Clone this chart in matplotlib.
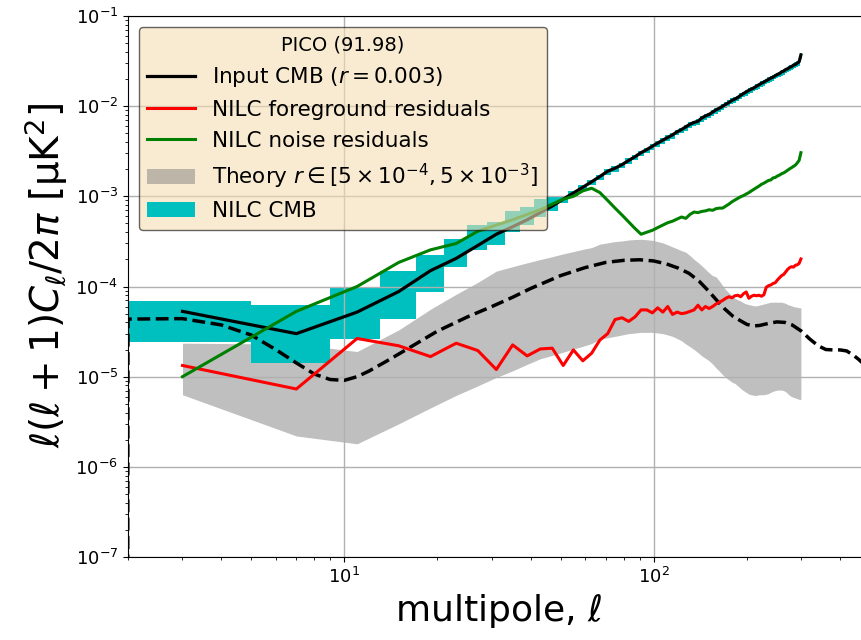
import numpy as np
import matplotlib
matplotlib.use("Agg")
from matplotlib import pyplot as plt

# binned multipoles, dl = 4
ell = np.arange(3, 300, 4)

input_cmb = [5.3e-5, 3.0e-5, 5.2e-5, 8.8e-5, 1.5e-4, 2.05e-4, 2.85e-4, 3.8e-4,
             4.6e-4, 5.5e-4, 6.6e-4, 7.8e-4, 9.3e-4, 1.09e-3, 1.26e-3, 1.45e-3,
             1.66e-3, 1.9e-3, 2.05e-3, 2.25e-3, 2.5e-3, 2.75e-3, 3.05e-3, 3.3e-3,
             3.6e-3, 3.9e-3, 4.2e-3, 4.5e-3, 4.8e-3, 5.2e-3, 5.5e-3, 5.9e-3,
             6.3e-3, 6.6e-3, 6.8e-3, 7.4e-3, 7.8e-3, 8.1e-3, 8.6e-3, 9.1e-3,
             9.5e-3, 1.0e-2, 1.05e-2, 1.1e-2, 1.16e-2, 1.2e-2, 1.25e-2, 1.32e-2,
             1.38e-2, 1.44e-2, 1.5e-2, 1.55e-2, 1.6e-2, 1.67e-2, 1.73e-2, 1.8e-2,
             1.85e-2, 1.92e-2, 1.98e-2, 2.05e-2, 2.1e-2, 2.18e-2, 2.25e-2, 2.3e-2,
             2.4e-2, 2.45e-2, 2.55e-2, 2.6e-2, 2.7e-2, 2.75e-2, 2.85e-2, 2.9e-2,
             3.0e-2, 3.1e-2, 3.7e-2]

fg_res = [1.33e-5, 7.3e-6, 2.65e-5, 2.2e-5, 1.67e-5, 2.35e-5, 1.95e-5, 1.2e-5,
          2.25e-5, 1.7e-5, 2.03e-5, 2.07e-5, 1.33e-5, 1.98e-5, 1.5e-5, 1.82e-5,
          2.55e-5, 3.0e-5, 4.3e-5, 4.5e-5, 4.1e-5, 4.6e-5, 5.5e-5, 5.5e-5,
          5.1e-5, 5.8e-5, 5.2e-5, 6.0e-5, 4.9e-5, 5.2e-5, 5.0e-5, 5.1e-5,
          5.3e-5, 5.5e-5, 6.2e-5, 5.5e-5, 6.0e-5, 5.7e-5, 6.0e-5, 6.4e-5,
          6.7e-5, 7.0e-5, 7.4e-5, 7.7e-5, 7.5e-5, 7.9e-5, 8.0e-5, 7.7e-5,
          8.3e-5, 8.7e-5, 7.4e-5, 7.8e-5, 8.0e-5, 7.9e-5, 8.0e-5, 7.8e-5,
          8.1e-5, 9.8e-5, 1.02e-4, 1.04e-4, 1.08e-4, 1.1e-4, 1.18e-4, 1.25e-4,
          1.32e-4, 1.36e-4, 1.45e-4, 1.55e-4, 1.62e-4, 1.66e-4, 1.64e-4, 1.72e-4,
          1.74e-4, 1.8e-4, 2.02e-4]

noise_res = [1.0e-5, 5.3e-5, 1.0e-4, 1.85e-4, 2.55e-4, 3.0e-4, 4.1e-4, 4.8e-4,
             5.5e-4, 6.3e-4, 7.1e-4, 8.2e-4, 9.3e-4, 1.0e-3, 1.15e-3, 1.23e-3,
             1.1e-3, 9.0e-4, 7.4e-4, 6.2e-4, 5.2e-4, 4.4e-4, 3.8e-4, 4.0e-4,
             4.2e-4, 4.5e-4, 4.8e-4, 5.1e-4, 5.3e-4, 5.6e-4, 5.9e-4, 5.7e-4,
             6.3e-4, 6.7e-4, 6.6e-4, 6.8e-4, 6.9e-4, 7.1e-4, 7.0e-4, 7.3e-4,
             7.4e-4, 7.4e-4, 7.8e-4, 8.2e-4, 8.7e-4, 9.1e-4, 9.5e-4, 9.9e-4,
             1.02e-3, 1.06e-3, 1.1e-3, 1.15e-3, 1.2e-3, 1.25e-3, 1.3e-3, 1.36e-3,
             1.4e-3, 1.45e-3, 1.5e-3, 1.52e-3, 1.6e-3, 1.62e-3, 1.68e-3, 1.72e-3,
             1.78e-3, 1.82e-3, 1.88e-3, 1.95e-3, 2.02e-3, 2.08e-3, 2.15e-3, 2.22e-3,
             2.35e-3, 2.5e-3, 3.05e-3]

cmb_lo = [2.4e-5, 1.4e-5, 2.6e-5, 4.4e-5, 8.6e-5, 1.66e-4, 2.55e-4, 2.9e-4,
          4.0e-4, 4.8e-4, 5.9e-4, 6.8e-4, 8.5e-4, 9.9e-4, 1.15e-3, 1.32e-3,
          1.51e-3, 1.73e-3, 1.87e-3, 2.05e-3, 2.28e-3, 2.5e-3, 2.78e-3, 3.0e-3,
          3.28e-3, 3.55e-3, 3.82e-3, 4.1e-3, 4.37e-3, 4.73e-3, 5.0e-3, 5.37e-3,
          5.73e-3, 6.0e-3, 6.19e-3, 6.73e-3, 7.1e-3, 7.37e-3, 7.83e-3, 8.28e-3,
          8.65e-3, 9.1e-3, 9.55e-3, 1.0e-2, 1.06e-2, 1.09e-2, 1.14e-2, 1.2e-2,
          1.26e-2, 1.31e-2, 1.37e-2, 1.41e-2, 1.46e-2, 1.52e-2, 1.57e-2, 1.64e-2,
          1.68e-2, 1.75e-2, 1.8e-2, 1.87e-2, 1.91e-2, 1.98e-2, 2.05e-2, 2.09e-2,
          2.18e-2, 2.23e-2, 2.32e-2, 2.37e-2, 2.46e-2, 2.5e-2, 2.59e-2, 2.64e-2,
          2.73e-2, 2.82e-2, 3.3e-2]

cmb_hi = [6.9e-5, 6.25e-5, 9.6e-5, 1.49e-4, 2.24e-4, 3.34e-4, 4.8e-4, 5.2e-4,
          6.9e-4, 7.7e-4, 9.3e-4, 9.8e-4, 9.8e-4, 1.14e-3, 1.32e-3, 1.52e-3,
          1.74e-3, 2.0e-3, 2.15e-3, 2.36e-3, 2.63e-3, 2.89e-3, 3.2e-3, 3.47e-3,
          3.78e-3, 4.1e-3, 4.41e-3, 4.73e-3, 5.04e-3, 5.46e-3, 5.78e-3, 6.2e-3,
          6.62e-3, 6.93e-3, 7.14e-3, 7.77e-3, 8.19e-3, 8.5e-3, 9.03e-3, 9.56e-3,
          9.98e-3, 1.05e-2, 1.1e-2, 1.16e-2, 1.22e-2, 1.26e-2, 1.31e-2, 1.39e-2,
          1.45e-2, 1.51e-2, 1.58e-2, 1.63e-2, 1.68e-2, 1.75e-2, 1.82e-2, 1.89e-2,
          1.94e-2, 2.02e-2, 2.08e-2, 2.15e-2, 2.2e-2, 2.29e-2, 2.36e-2, 2.42e-2,
          2.52e-2, 2.57e-2, 2.68e-2, 2.73e-2, 2.84e-2, 2.89e-2, 2.99e-2, 3.05e-2,
          3.15e-2, 3.26e-2, 3.9e-2]

theory_lo = [6.3e-6, 2.2e-6, 1.8e-6, 3.0e-6, 4.5e-6, 6.2e-6, 7.9e-6, 9.8e-6,
             1.16e-5, 1.37e-5, 1.58e-5, 1.72e-5, 1.87e-5, 2.02e-5, 2.17e-5, 2.33e-5,
             2.6e-5, 2.7e-5, 2.8e-5, 2.9e-5, 3.0e-5, 3.05e-5, 3.1e-5, 3.1e-5,
             3.1e-5, 3.05e-5, 3.0e-5, 2.9e-5, 2.8e-5, 2.65e-5, 2.5e-5, 2.3e-5,
             2.15e-5, 2.0e-5, 1.85e-5, 1.7e-5, 1.6e-5, 1.5e-5, 1.38e-5, 1.25e-5,
             1.15e-5, 1.05e-5, 9.8e-6, 9.2e-6, 8.7e-6, 8.4e-6, 7.9e-6, 7.4e-6,
             7.0e-6, 6.7e-6, 6.4e-6, 6.3e-6, 6.2e-6, 6.2e-6, 6.3e-6, 6.3e-6,
             6.3e-6, 6.4e-6, 6.5e-6, 6.7e-6, 6.9e-6, 7.0e-6, 7.1e-6, 7.1e-6,
             7.1e-6, 7.0e-6, 6.8e-6, 6.5e-6, 6.2e-6, 6.0e-6, 5.9e-6, 5.8e-6,
             5.7e-6, 5.6e-6, 5.6e-6]

theory_hi = [2.35e-5, 2.3e-5, 1.9e-5, 3.3e-5, 5.6e-5, 8.2e-5, 1.11e-4, 1.48e-4,
             1.66e-4, 1.83e-4, 1.99e-4, 2.14e-4, 2.3e-4, 2.44e-4, 2.58e-4, 2.7e-4,
             2.95e-4, 3.05e-4, 3.15e-4, 3.2e-4, 3.28e-4, 3.32e-4, 3.34e-4, 3.3e-4,
             3.25e-4, 3.15e-4, 3.05e-4, 2.9e-4, 2.75e-4, 2.62e-4, 2.5e-4, 2.4e-4,
             2.2e-4, 2.0e-4, 1.85e-4, 1.7e-4, 1.55e-4, 1.42e-4, 1.32e-4, 1.28e-4,
             1.15e-4, 1.02e-4, 9.2e-5, 8.5e-5, 7.9e-5, 7.4e-5, 7.1e-5, 6.9e-5,
             6.6e-5, 6.4e-5, 6.3e-5, 6.2e-5, 6.1e-5, 6.1e-5, 6.2e-5, 6.3e-5,
             6.4e-5, 6.5e-5, 6.6e-5, 6.7e-5, 6.7e-5, 6.7e-5, 6.7e-5, 6.7e-5,
             6.7e-5, 6.6e-5, 6.5e-5, 6.3e-5, 6.2e-5, 6.1e-5, 6.0e-5, 5.9e-5,
             5.9e-5, 5.8e-5, 5.8e-5]

# unbinned theory spectrum (dashed), ell=1 is zero
ell_th = [1, 2, 3, 4, 5, 6, 7, 8, 9, 10, 11, 12, 14, 17, 20, 25, 30, 35, 40,
          50, 60, 70, 80, 90, 100, 110, 120, 130, 140, 150, 160, 170, 180, 190,
          200, 210, 220, 235, 250, 265, 280, 300, 320, 340, 360, 380, 400, 420,
          440, 460, 480]
dl_th = [0.0, 4.35e-5, 4.4e-5, 3.75e-5, 2.9e-5, 2.0e-5, 1.42e-5, 1.07e-5,
         9.3e-6, 9.1e-6, 1.0e-5, 1.15e-5, 1.55e-5, 2.3e-5, 3.2e-5, 4.6e-5,
         6.0e-5, 7.6e-5, 9.5e-5, 1.32e-4, 1.62e-4, 1.85e-4, 1.95e-4, 1.98e-4,
         1.92e-4, 1.78e-4, 1.6e-4, 1.4e-4, 1.15e-4, 9.0e-5, 7.0e-5, 5.6e-5,
         4.7e-5, 4.2e-5, 3.8e-5, 3.65e-5, 3.7e-5, 3.9e-5, 4.05e-5, 4.0e-5,
         3.75e-5, 3.2e-5, 2.6e-5, 2.2e-5, 2.0e-5, 1.98e-5, 1.98e-5, 1.93e-5,
         1.75e-5, 1.55e-5, 1.35e-5]

# bin edges for the NILC CMB steps
edges = np.append(ell - 2, ell[-1] + 2)

fig = plt.figure(figsize=(8.61, 6.4), dpi=100)
ax = fig.add_axes([128 / 861, 83 / 640, 742 / 861, 541 / 640])

th = ax.fill_between(ell, theory_lo, theory_hi, color='gray', alpha=0.5, lw=0,
                     label=r'Theory $r \in [5\times10^{-4}, 5\times10^{-3}]$')
nilc = ax.fill_between(edges, np.append(cmb_lo, cmb_lo[-1]),
                       np.append(cmb_hi, cmb_hi[-1]), step='post', color='c',
                       lw=0, label='NILC CMB')
ax.plot(ell_th, dl_th, 'k--', lw=2.5)
l1, = ax.plot(ell, input_cmb, 'k', lw=2.3, label=r'Input CMB ($r = 0.003$)')
l2, = ax.plot(ell, fg_res, 'r', lw=2.2, label='NILC foreground residuals')
l3, = ax.plot(ell, noise_res, 'g', lw=2.2, label='NILC noise residuals')

ax.set_xscale('log')
ax.set_yscale('log')
ax.set_xlim(2, 500)
ax.set_ylim(1e-7, 1e-1)
ax.grid(True, which='major', color='#b0b0b0', lw=1)
ax.tick_params(labelsize=13)
ax.set_xlabel(r'multipole, $\ell$', fontsize=26)
ax.set_ylabel(r'$\ell(\ell+1)C_\ell/2\pi$ [μK$^2$]', fontsize=28)
ax.yaxis.label.set_y(0.52)

ax.legend([l1, l2, l3, th, nilc], [h.get_label() for h in [l1, l2, l3, th, nilc]],
          loc='upper left', title='PICO (91.98)', fontsize=15.5,
          title_fontsize=14, handlelength=2.2, facecolor='wheat',
          framealpha=0.6, edgecolor='k')

fig.savefig('out.png', dpi=100)
